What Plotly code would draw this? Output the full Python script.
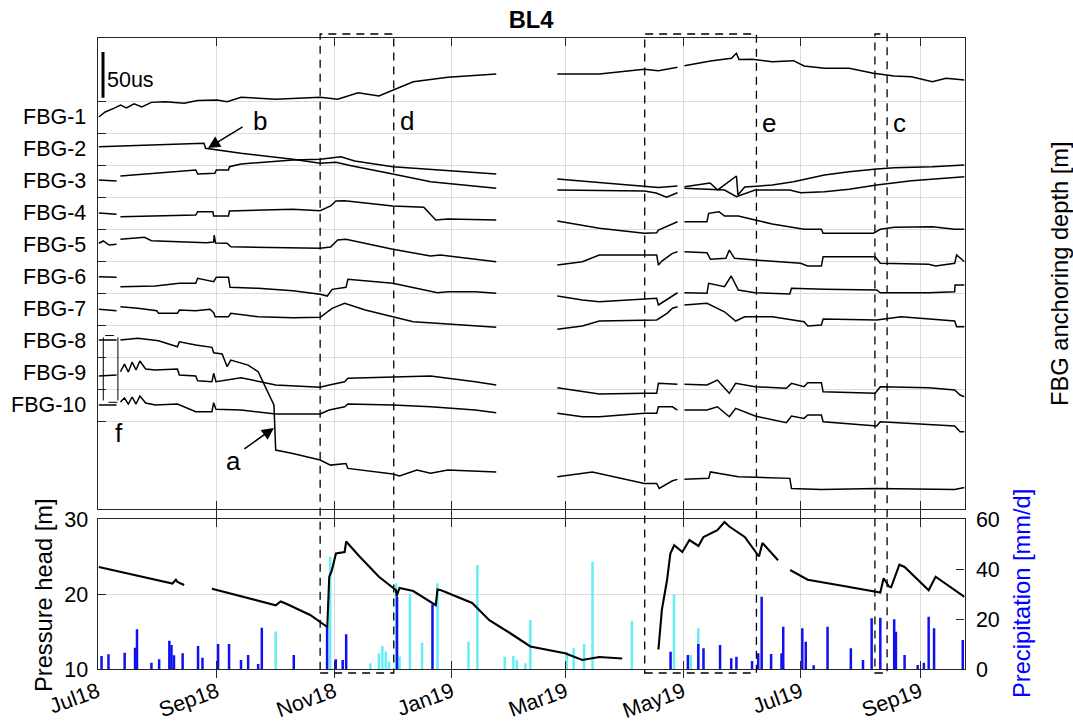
import pandas as pd
import plotly.graph_objects as go

W, H = 1073, 724
START = pd.Timestamp("2018-07-01")
END_DAY = 450.1
FONT = "Liberation Sans, Arial, sans-serif"

# ---------------- axis labels ----------------
TICK_DATES = ["2018-07-01", "2018-09-01", "2018-11-01", "2019-01-01",
              "2019-03-01", "2019-05-01", "2019-07-01", "2019-09-01"]
TICK_TEXT = ["Jul18", "Sep18", "Nov18", "Jan19", "Mar19", "May19", "Jul19", "Sep19"]
SENSORS = ["FBG-1", "FBG-2", "FBG-3", "FBG-4", "FBG-5",
           "FBG-6", "FBG-7", "FBG-8", "FBG-9", "FBG-10"]
DEPTHS = ["-0.26", "-4.57", "-8.88", "-13.19", "-17.5", "-21.8",
          "-26.11", "-30.42", "-34.73", "-39.04", "-43.35"]

# ---------------- FBG strain (days since 2018-07-01, microstrain change) ----------------
FBG1_T = [0.7, 4, 8.4, 12, 15, 19, 23, 28, 35.1, 45, 52, 62.1, 67.3, 74.5, 92.5, 115.6, 124.7, 135.3, 146.1, 153.3,
          163.9, 181.9, 207.0, None, 238.7, 260.5, 283.9, 291.2, 301.1, None, 304.7, 318.2, 329.1, 331.7, 333, 339.8,
          350.3, 361.3, 366.8, 377.4, 390.2, 402.8, 413.6, 422.6, 433.4, 440.5, 450.1]
FBG1_V = [0, 5.5, 9.5, 13, 10, 14.5, 11, 16, 16.7, 15, 18, 18.6, 16.7, 21.6, 19.4, 21.6, 19.4, 26.6, 23, 29.5,
          38.6, 43.4, 47, None, 47, 47, 52.2, 50.7, 54.4, None, 56.1, 61.3, 64.2, 69.7, 63, 63.1,
          60.5, 61.6, 55.8, 53.3, 53.3, 47.8, 44.9, 44.1, 38.6, 42.3, 40.5]

FBG2_T = [0.7, 30, 55.3, 56.1, 74.5, 101.4, 115.6, 123.8, 131.7, 153.3, 172.9, 207.0, None, 238.7, 283.9, 290,
          295.4, 301.1, None, 304.7, 325.5, 331.7, 341.4, 359.4, 365, 377.4, 390.2, 404.5, 422.6, 450.1]
FBG2_V = [2.5, 4.4, 6.2, 0.8, -4.7, -11.3, -15.6, -14.6, -18.3, -27.4, -35.8, -43, None, -44.9, -46, -48.1,
          -52.8, -47.8, None, -43, -44.9, -52.2, -44.9, -44.9, -47.8, -46.7, -44.1, -39.4, -34.7, -30.3]

FBG3_T = [0.7, 9.9, None, 11.9, 51, 52, 60.9, 61.7, 68, 68.5, 74.5, 101.4, 115.6, 126.4, 133.5, 153.3, 181.9,
          207.0, None, 238.7, 283.9, 291.2, 301.1, None, 304.7, 318, 322, 331.7, 332.5, 336, 350.3, 361.3, 377.4,
          390.2, 404.5, 413.6, 433.4, 450.1]
FBG3_V = [1.1, 0, None, 5.5, 12, 7.7, 8.4, 12, 12, 15.6, 18.6, 23, 23.7, 26.6, 21.9, 15.6, 11.3,
          7.7, None, 2.2, -6.2, -7.1, -5.5, None, -6.2, -2.2, -9.8, 5.5, -15.3, -6.6, -4.4, -0.8, 6.6,
          10.2, 13.1, 14.6, 15.6, 17.5]

FBG4_T = [0.7, 9.9, None, 11.9, 51, 52, 59.9, 60.3, 68, 68.5, 74.5, 101.4, 115.6, 121, 123.8, 128.3, 153.3,
          169.4, 175.6, 181.9, 207.0, None, 238.7, 260.5, 283.9, 290.3, 291.2, 298.5, 301.1, None, 304.7, 316.4,
          317.3, 322.7, 325.5, 332.7, 341.4, 350.3, 366.8, 375.8, 376.7, 402.8, 406.4, 413.6, 433.4, 445, 450.1]
FBG4_V = [0, -1.4, None, -4, -2.2, 1.4, 1.4, -3.3, -3.3, 2.2, 2.5, 4, 2.5, 7.7, 13.1, 13.5, 7.7,
          6.2, -7.7, -6.6, -7.7, None, -8.8, -16.7, -22.2, -21.6, -18.6, -12, -9.5, None, -9.5, -9.5,
          -0.3, 1.4, -3.3, -3.3, -7.7, -12, -17.8, -17.8, -22.2, -22.2, -17.8, -15.6, -15, -17.8, -17.8]

FBG5_T = [0.7, 3, 6, 9.9, None, 11.9, 24.4, 28, 56.6, 60.3, 60.6, 61.3, 67.3, 69.2, 115.6, 121, 124.7, 129,
          153.3, 172.9, 178, 207.0, None, 238.7, 251.7, 260.5, 283.9, 290.3, 291.2, 293, 298.5, 301.1, None,
          304.7, 316.4, 318.2, 326.2, 328, 330.7, 341.4, 365, 368.7, 375.8, 376.7, 403.7, 406.4, 431.5, 435.1,
          445, 446, 450.1]
FBG5_V = [1.9, 4.4, 0, 0.8, None, 6.2, 8.4, 4.7, 2.5, 3.3, 10.9, 2.2, 1.9, -1.9, -3.6, -2.2, 5.5, 6.2,
          -4.7, -12, -10.9, -18.3, None, -21.9, -18.3, -10.9, -10.9, -10.9, -21.9, -17.5, -9.1, -7.3, None,
          -7.3, -8.4, -15.6, -14.6, -5.5, -14.6, -16.4, -20, -23, -23, -12.8, -12.8, -20, -21.1, -23,
          -20, -10.9, -18.3]

FBG6_T = [0.7, 9.9, None, 11.9, 30, 42.5, 51, 52, 60.3, 61.7, 68, 68.8, 83.4, 101.4, 115.6, 119.3, 121.8, 129,
          130, 153.3, 163.9, 176.5, 181.9, 196.1, 207.0, None, 238.7, 251.7, 260.5, 283.9, 290.3, 291.2, 298.5,
          301.1, None, 304.7, 316.4, 317.3, 325.5, 329, 332.7, 341.4, 359.4, 360.3, 377.4, 404.5, 406.4, 431.5,
          445, 445.2, 450.1]
FBG6_V = [0.3, -0.3, None, -10.6, -9.8, -6.9, -6.9, -1.4, -5.1, -0.3, -0.3, -11.3, -12.4, -15, -18.9, -20.8,
          -13.5, -11.3, -2.5, -6.9, -11.3, -17.2, -16.1, -16.1, -17.8, None, -20.8, -25.2, -27, -24.4, -23.3,
          -30.6, -20.8, -17.2, None, -17.2, -17.8, -6.9, -10.6, 1.1, -14.2, -17.2, -18.6, -12.4, -13.5, -14.2,
          -17.2, -17.2, -16.1, -8.8, -8.8]

FBG7_T = [0.7, 9.9, None, 11.9, 20.9, 30.8, 31.7, 41.5, 42.5, 51, 58.4, 60.3, 61.1, 68, 69.2, 83.4, 101.4,
          115.6, 121.8, 128.3, 139, 153.3, 163.9, 181.9, 207.0, None, 238.7, 251.7, 260.5, 283.9, 290.3, 295.7,
          298.5, 301.1, None, 304.7, 316.4, 325.5, 331.3, 336, 350.3, 366.8, 368.7, 375.8, 376.7, 404.5, 417.2,
          445, 446, 450.1]
FBG7_V = [-0.3, -1.9, None, 2.5, 0.8, -1.9, -4.7, -4.7, -1.1, -1.9, -0.3, -4, -8.4, -8.4, -4.7, -8.4, -9.5,
          -9.1, 0.8, 6.2, -1.1, -8.4, -13.9, -16.4, -20, None, -22.2, -18.6, -13.1, -12, -12, -4.7,
          0.8, 2.5, None, 4.4, 6.2, -3, -13.1, -8.4, -8.4, -13.9, -18.6, -17.5, -10.9, -12, -8.4,
          -13.1, -19.4, -19.4]

FBG8_T = [0.7, 9.9, None, 11.9, 20.9, 31.7, 41.5, 42.5, 51, 59.4, 60.3, 64.7, 67.3, 69.2, 78.2, 83.4, 87, 91.6,
          92.5, 101.4, 115.6, 121, 129, 130, 153.3, 156.8, 165.8, 172.9, 181.9, 207.0, None, 238.7, 256.9, 283.9,
          290.3, 291.6, 298.5, 301.1, None, 304.7, 317.3, 318.2, 332.7, 359.4, 360.3, 375.8, 404.5, 445, 450.1]
FBG8_V = [1.1, 1.1, None, 1.1, 3, 0.3, -6.2, -0.8, -4.4, -6.9, -12.8, -14.2, -28.1, -20.8, -26.3, -33.6, -50, -70,
          -119.2, -122.9, -130.2, -135.7, -133.9, -139.3, -145.5, -147.7, -141.1, -144.7, -141.1, -143.2, None,
          -148.5, -143.2, -155.7, -155.7, -161.2, -152.8, -151.3, None, -151.3, -150.2, -143.2, -148.5, -150.2,
          -161.2, -162.3, -161.2, -162.3, -160.1]

FBG9_T = [0.7, 9.9, None, 11.9, 14, 16, 18, 20, 22, 25, 30, 41.5, 42.5, 51, 52, 59.4, 60.3, 61.5, 74.5, 92.5,
          115.6, 120.3, 128.3, 130, 153.3, 172.9, 196.1, 207.0, None, 238.7, 251.7, 260.5, 283.9, 290.3, 291.2,
          301.1, None, 304.7, 316.4, 321.8, 328, 331.3, 341.4, 357.6, 360.3, 366.8, 368.7, 375.8, 376.7, 403.7,
          406.4, 431.5, 445, 447.8, 450.1]
FBG9_V = [-3.3, -2.2, None, 1.4, 9.8, 1.1, 12, 3.3, 13.1, 4.4, 3.3, 4.4, -2.2, -3.3, -8.4, -9.5, -0.3, -9.5,
          -5.1, -13.1, -15.6, -13.1, -9.5, -5.8, -4, -3.3, -9.5, -13.1, None, -16.1, -20.5, -23, -22.2, -22.2,
          -11.3, -12.4, None, -12.4, -13.1, -7.7, -22.2, -11.3, -15, -16.7, -11.3, -15, -10.6, -10.6, -20.5,
          -22.2, -15, -16.1, -18.6, -24.1, -25.9]

FBG10_T = [0.7, 9.9, None, 11.9, 14, 16, 18, 20, 22, 25, 30, 41.5, 51, 59.4, 60.3, 61.5, 74.5, 92.5, 115.6,
           120.3, 128.3, 130, 153.3, 172.9, 196.1, 207.0, None, 238.7, 251.7, 260.5, 283.9, 290.3, 291.2, 298.5,
           301.1, None, 304.7, 316.4, 321.8, 328, 331.3, 341.4, 357.6, 360.3, 366.8, 368.7, 375.8, 376.7, 404.5,
           406.4, 445, 447.8, 450.1]
FBG10_V = [0, 0, None, 3.3, 7.7, 1.1, 8.8, 1.1, 9.8, 2.2, 0, 1.1, -7.3, -7.3, 2.5, -4.7, -5.5, -9.8, -9.8,
           -5.5, -1.9, 1.1, 0, -1.9, -5.5, -8.4, None, -9.1, -12.8, -12.8, -9.1, -9.1, -1.9, -1.9,
           -5.5, None, -5.5, -5.5, -1.9, -12.8, -3.6, -12, -19.4, -12, -14.6, -10.9, -10.9, -18.3, -23,
           -18.3, -23, -29.2, -29.2]

FBG_T = [FBG1_T, FBG2_T, FBG3_T, FBG4_T, FBG5_T, FBG6_T, FBG7_T, FBG8_T, FBG9_T, FBG10_T]
FBG_V = [FBG1_V, FBG2_V, FBG3_V, FBG4_V, FBG5_V, FBG6_V, FBG7_V, FBG8_V, FBG9_V, FBG10_V]

# ---------------- pressure head [m] ----------------
PH_T = [0.7, 38.9, 40.7, 41.5, 45, None, 59.4, 92.5, 95.1, 98, 110.4, 119.3, 120.3, 121.5, 123.8, 128.3, 129.1,
        135.3, 146.1, 155, 155.3, 156.8, 163.9, 175.6, 176.5, 178.4, 194.5, 203.4, 214.1, 224.7, 242.7, 251.7,
        260.5, 272.4, None, 291.2, 293, 295.7, 297.4, 299.4, 303.6, 307.3, 312, 314.6, 321.8, 325.5, 328, 336,
        343.4, 345.2, 353.3, None, 359.6, 368.7, 386.6, 406.4, 408.1, 410.9, 412, 416.3, 419, 431.5, 435.1, 450.1]
PH_V = [23.6, 21.4, 21.9, 21.6, 21.2, None, 20.7, 18.5, 19.0, 18.7, 17.2, 15.6, 22.3, 23, 25.4, 25.6, 27.0,
        25.2, 22.3, 20.5, 19.7, 20.8, 20.4, 18.5, 20.6, 20.5, 18.8, 16.5, 14.8, 13.0, 12.1, 11.2,
        11.6, 11.4, None, 12.6, 17.9, 21.9, 25.4, 26.5, 25.6, 27.2, 26.4, 27.6, 28.5, 29.6, 29.0, 27.6,
        25.0, 26.8, 24.5, None, 23.2, 21.9, 21.1, 20.2, 22.1, 21.0, 20.9, 23.9, 23.6, 20.5, 22.3, 19.6]

# ---------------- daily precipitation [mm/d] ----------------
RAIN_T = [2.1, 5.7, 14.1, 19.5, 20.5, 28, 32, 37.3, 38.4, 39.7, 44.2, 52.2, 54.5, 62.6, 68.3, 74.5, 78.2, 83.4,
          85.3, 101.9, 119.2, 123.7, 127.3, 129.1, 155.5, 173.9, 297.5, 306.5, 311.9, 314.6, 323.2, 329, 331.7,
          339.8, 343, 344.8, 349.7, 355.1, 356, 365.9, 367.7, 371.8, 379, 391.1, 397.4, 401.9, 406.4, 413.6,
          414.5, 419, 425.8, 429, 431.5, 434.3, 449.2]
RAIN_V = [5.2, 5.9, 6.5, 8.5, 15.9, 2.5, 3.9, 11.3, 9.6, 5.5, 6.3, 9.2, 4.5, 10, 10, 3.6, 5.6, 2,
          16.5, 5.6, 17, 3.9, 3.6, 13.9, 29, 25.9, 6.9, 5.6, 10, 8.3, 9.6, 4.3, 4.9,
          3.2, 6.3, 28.9, 6, 6.3, 16.9, 16.3, 10.9, 1.5, 16.9, 8.3, 3.6, 20.3, 20.5, 19.9,
          14.9, 5.6, 1.6, 2.5, 20.9, 16.3, 11.6]
SNOW_T = [92.5, 120.8, 141.7, 146.1, 147.9, 149.7, 151.4, 155, 156.8, 162.2, 168.5, 176.5, 192.6, 197.2, 211.4,
          215.9, 217.7, 222.1, 224.7, 243.6, 247.2, 252.6, 257, 277.4, 299.3, 308, 311.9]
SNOW_V = [15, 44.8, 2.3, 6.3, 9.2, 7, 3, 34.3, 5, 29.9, 10.5, 34.3, 10.9, 41.6, 4.9,
          5.2, 3.5, 2.3, 19.6, 6.9, 8.3, 10, 42.9, 19.3, 29.6, 5.6, 16.3]

# observation windows marked with dashed boxes
EVENT_WINDOWS = [("2018-10-24 14:00", "2018-12-01 19:00"),
                 ("2019-04-11 02:00", "2019-06-08 02:00"),
                 ("2019-08-08 14:00", "2019-08-14 22:00")]

for t, v in zip(FBG_T, FBG_V):
    assert len(t) == len(v)
assert len(PH_T) == len(PH_V) and len(RAIN_T) == len(RAIN_V) and len(SNOW_T) == len(SNOW_V)


def to_dates(days):
    return [None if d is None else (START + pd.Timedelta(days=d)).strftime("%Y-%m-%d %H:%M") for d in days]


def one_date(d):
    return (START + pd.Timedelta(days=d)).strftime("%Y-%m-%d %H:%M")


SPACING = 35.0          # microstrain between neighbouring sensor rows
Y_TOP, Y_BOT = 68.9, -446.2
GRID_VALS = [-SPACING * j for j in range(11)]


def row_center(k):
    return -SPACING * (k - 0.5)


fig = go.Figure()

for k, (t, v) in enumerate(zip(FBG_T, FBG_V), start=1):
    base = row_center(k)
    fig.add_trace(go.Scatter(
        x=to_dates(t), y=[None if s is None else base + s for s in v],
        mode="lines", line=dict(color="black", width=1.5),
        connectgaps=False, xaxis="x", yaxis="y", hoverinfo="skip"))

DAY_MS = 86400000
fig.add_trace(go.Bar(x=to_dates(SNOW_T), y=SNOW_V, width=1.3 * DAY_MS,
                     marker=dict(color="#66eef4", line=dict(width=0)),
                     xaxis="x2", yaxis="y2"))
fig.add_trace(go.Bar(x=to_dates(RAIN_T), y=RAIN_V, width=1.3 * DAY_MS,
                     marker=dict(color="#1010f0", line=dict(width=0)),
                     xaxis="x2", yaxis="y2"))
fig.add_trace(go.Scatter(x=to_dates(PH_T), y=PH_V, mode="lines",
                         line=dict(color="black", width=2.1), connectgaps=False,
                         xaxis="x2", yaxis="y3"))

xdom = [97.5 / W, 964.5 / W]
top_dom = [1 - 509 / H, 1 - 38 / H]
bot_dom = [1 - 669 / H, 1 - 519 / H]
FRAME = "#262626"
GRID = "#dcdcdc"
xr = [one_date(0), one_date(END_DAY)]
tickfont = dict(family=FONT, size=21.5, color="black")

common_x = dict(type="date", range=xr, tickvals=TICK_DATES, ticktext=TICK_TEXT,
                ticks="inside", ticklen=8, tickcolor=FRAME, showline=True, linecolor=FRAME,
                linewidth=1.2, mirror="allticks", showgrid=True, gridcolor=GRID, gridwidth=1,
                zeroline=False, domain=xdom, tickfont=tickfont, automargin=False)

fig.update_layout(
    width=W, height=H, margin=dict(l=0, r=0, t=0, b=0, autoexpand=False),
    paper_bgcolor="white", plot_bgcolor="white", showlegend=False, barmode="overlay",
    font=dict(family=FONT, color="black"),
    title=dict(text="<b>BL4</b>", x=531 / W, y=1 - 20 / H, xanchor="center", yanchor="middle",
               font=dict(family=FONT, size=23.7, color="black")),
    xaxis=dict(common_x, anchor="y", showticklabels=False),
    yaxis=dict(domain=top_dom, anchor="x", range=[Y_BOT, Y_TOP], tickvals=GRID_VALS,
               showticklabels=False, ticks="inside", ticklen=8, tickcolor=FRAME,
               showline=True, linecolor=FRAME, linewidth=1.2, mirror=True,
               showgrid=True, gridcolor=GRID, zeroline=False, automargin=False),
    yaxis4=dict(overlaying="y", side="right", anchor="x", range=[Y_BOT, Y_TOP], tickvals=GRID_VALS,
                ticktext=DEPTHS, ticks="inside", ticklen=8, tickcolor=FRAME, showgrid=False,
                zeroline=False, tickfont=tickfont, ticklabelstandoff=6, automargin=False),
    xaxis2=dict(common_x, anchor="y2", tickangle=-20, ticklabelstandoff=1),
    yaxis2=dict(domain=bot_dom, anchor="x2", side="right", range=[0, 60], tickvals=[0, 20, 40, 60],
                ticks="inside", ticklen=8, tickcolor=FRAME, showline=True, linecolor=FRAME,
                linewidth=1.2, showgrid=False, zeroline=False, tickfont=tickfont, ticklabelstandoff=6,
                automargin=False),
    yaxis3=dict(overlaying="y2", side="left", anchor="x2", range=[10, 30], tickvals=[10, 20, 30],
                ticks="inside", ticklen=8, tickcolor=FRAME, showline=True, linecolor=FRAME,
                linewidth=1.2, showgrid=True, gridcolor=GRID, zeroline=False, tickfont=tickfont,
                ticklabelstandoff=4, automargin=False),
)


def paper(xp, yp):
    return dict(xref="paper", yref="paper", x=xp / W, y=1 - yp / H)


ann = []
# sensor names on the left of each row
for k, name in enumerate(SENSORS, start=1):
    ann.append(dict(xref="paper", yref="y", x=88 / W, y=row_center(k), text=name, showarrow=False,
                    xanchor="right", yanchor="middle", font=tickfont))

label_font = dict(family=FONT, size=23.7, color="black")
ann.append(dict(paper(44, 595), text="Pressure head [m]", textangle=-90, showarrow=False,
                xanchor="center", yanchor="middle", font=label_font))
ann.append(dict(paper(1022, 594), text="Precipitation [mm/d]", textangle=-90, showarrow=False,
                xanchor="center", yanchor="middle", font=dict(label_font, color="#0000ff")))
ann.append(dict(paper(1060, 274), text="FBG anchoring depth [m]", textangle=-90, showarrow=False,
                xanchor="center", yanchor="middle", font=label_font))

# event letters
letter_font = dict(family=FONT, size=26, color="black")
for txt, xp, yp in [("b", 260, 121), ("d", 407, 121), ("e", 769, 123), ("c", 899, 123),
                    ("a", 233, 461), ("f", 118.5, 433)]:
    ann.append(dict(paper(xp, yp), text=txt, showarrow=False, xanchor="center", yanchor="middle",
                    font=letter_font))

# arrows pointing at the FBG-2 step and the FBG-8 drop
ann.append(dict(xref="x", yref="y", x=one_date(57.4), y=row_center(2) + 6.2 - 5.0, text="",
                showarrow=True, axref="pixel", ayref="pixel", ax=36, ay=-22,
                arrowhead=2, arrowsize=1.6, arrowwidth=1.5, arrowcolor="black"))
ann.append(dict(xref="x", yref="y", x=one_date(91.6), y=row_center(8) - 95.0, text="",
                showarrow=True, axref="pixel", ayref="pixel", ax=-31, ay=22,
                arrowhead=2, arrowsize=1.6, arrowwidth=1.5, arrowcolor="black"))

# strain scale bar label
ann.append(dict(paper(105, 79.5), text="50us", showarrow=False, xanchor="left", yanchor="middle",
                font=tickfont))
fig.update_layout(annotations=ann)

shapes = []
dash = dict(color="black", width=1.3, dash="8px,6px")
for a, b in EVENT_WINDOWS:
    shapes.append(dict(type="rect", xref="x", yref="paper", x0=a, x1=b,
                       y0=1 - 673 / H, y1=1 - 34 / H, line=dash, fillcolor="rgba(0,0,0,0)",
                       layer="above"))
# 50 microstrain scale bar
shapes.append(dict(type="line", xref="x", yref="y", x0=one_date(2.86), x1=one_date(2.86),
                   y0=3.6, y1=53.6, line=dict(color="black", width=3)))
# bracket for the initial period (f)
f_top, f_bot = row_center(8) + 4.0, row_center(10) + 5.0
for d in (3.0, 10.6):
    shapes.append(dict(type="line", xref="x", yref="y", x0=one_date(d), x1=one_date(d),
                       y0=f_bot, y1=f_top, line=dict(color="black", width=1)))
shapes.append(dict(type="line", xref="x", yref="y", x0=one_date(4), x1=one_date(8.5),
                   y0=f_top + 2, y1=f_top + 2, line=dict(color="black", width=1)))
shapes.append(dict(type="line", xref="x", yref="y", x0=one_date(5.7), x1=one_date(10.3),
                   y0=f_bot - 2, y1=f_bot - 2, line=dict(color="black", width=1)))
fig.update_layout(shapes=shapes)

fig.write_html("out.html")
